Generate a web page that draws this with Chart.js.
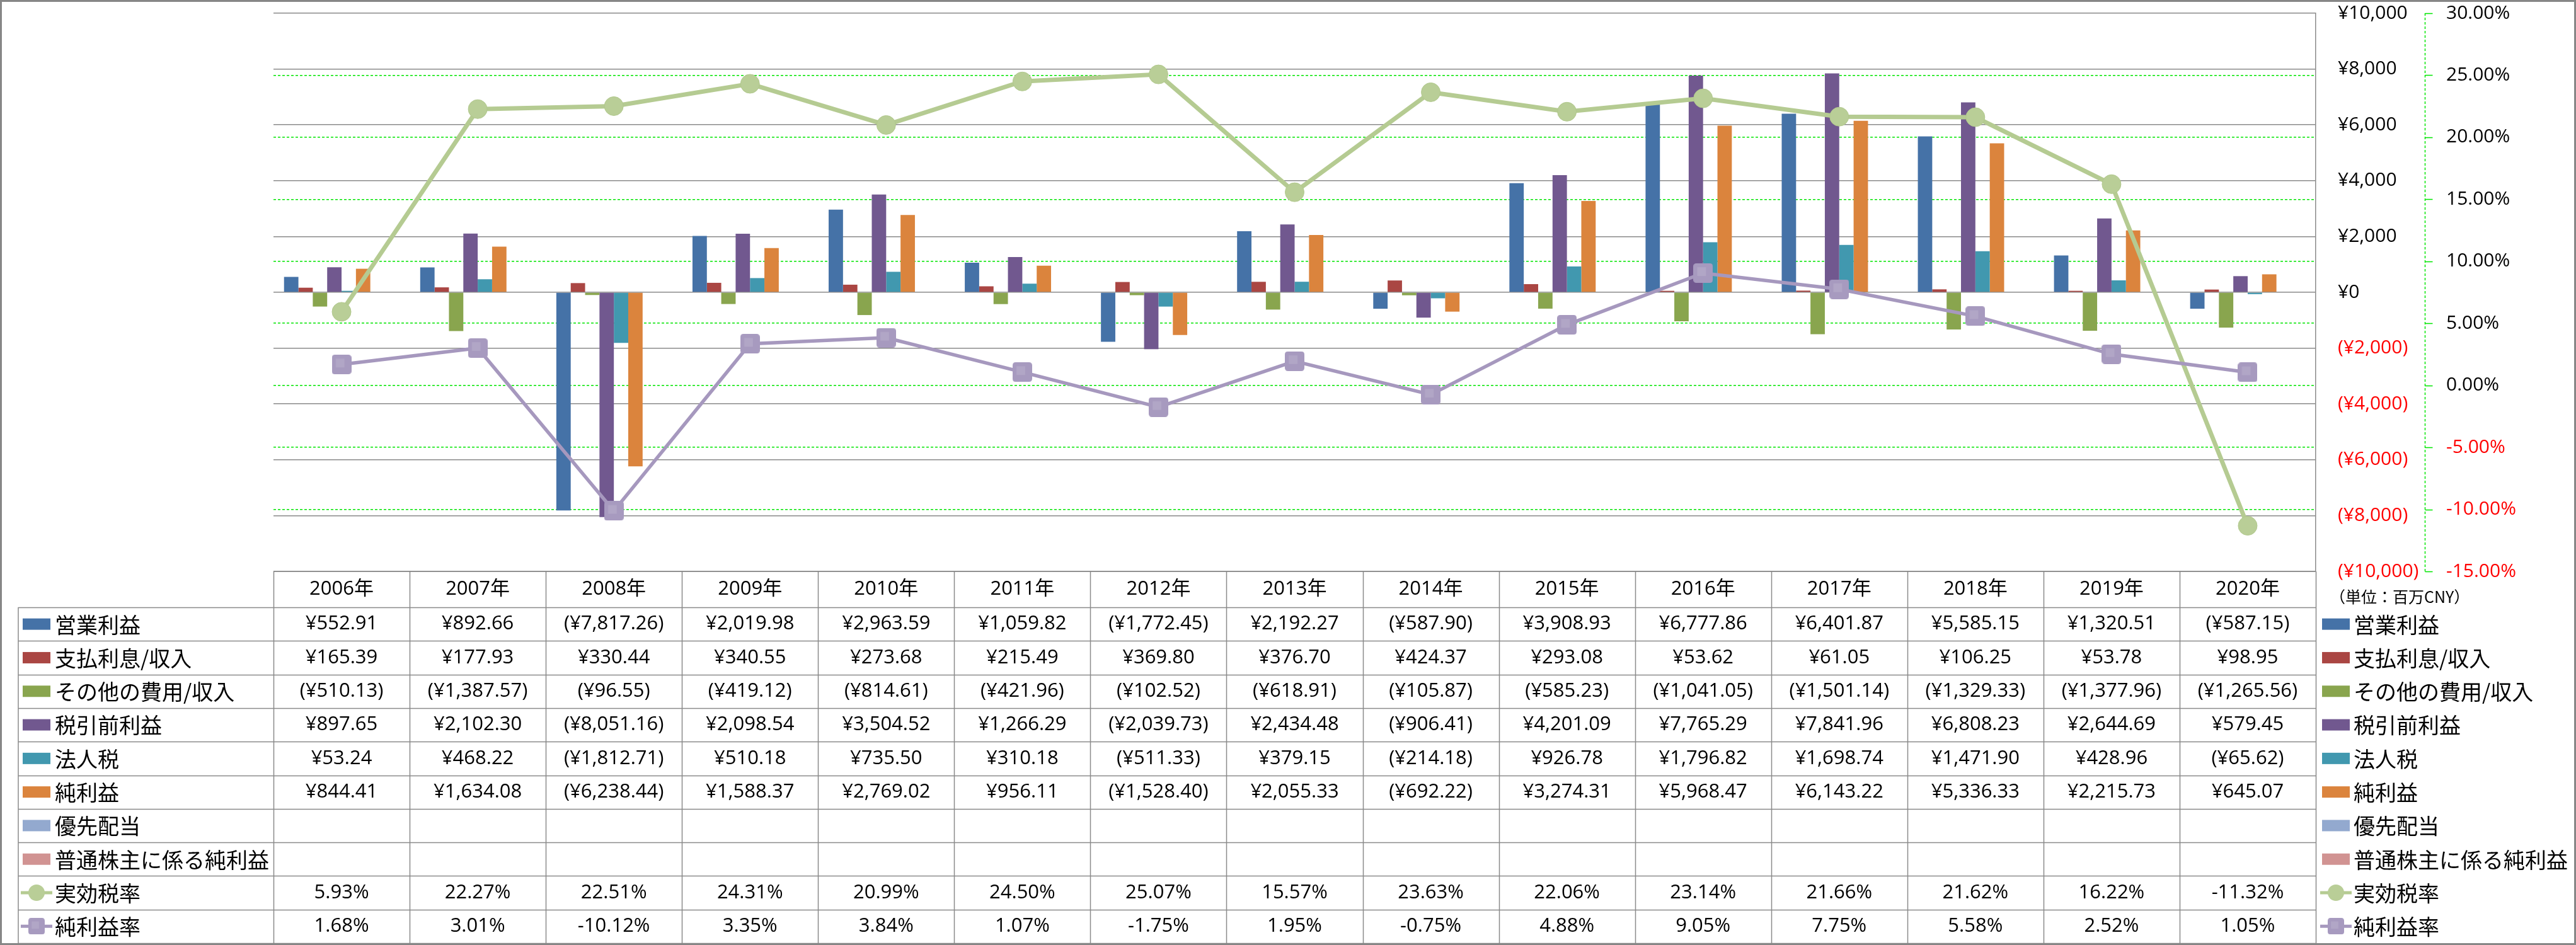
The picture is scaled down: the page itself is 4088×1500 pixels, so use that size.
<!DOCTYPE html>
<html>
<head>
<meta charset="utf-8">
<script src="https://cdn.jsdelivr.net/npm/chart.js@4.4.0/dist/chart.umd.min.js"></script>
<style>
  html, body { margin: 0; padding: 0; background: #fff; }
</style>
</head>
<body>
<canvas id="myChart" width="4088" height="1500"></canvas>
<script>
(function () {
    "use strict";

    // ---- data (百万CNY) ----
    const years = ['2006年', '2007年', '2008年', '2009年', '2010年', '2011年', '2012年', '2013年', '2014年', '2015年', '2016年', '2017年', '2018年', '2019年', '2020年'];
    const operatingIncome = [552.91, 892.66, -7817.26, 2019.98, 2963.59, 1059.82, -1772.45, 2192.27, -587.90, 3908.93, 6777.86, 6401.87, 5585.15, 1320.51, -587.15];
    const interest = [165.39, 177.93, 330.44, 340.55, 273.68, 215.49, 369.80, 376.70, 424.37, 293.08, 53.62, 61.05, 106.25, 53.78, 98.95];
    const otherIncome = [-510.13, -1387.57, -96.55, -419.12, -814.61, -421.96, -102.52, -618.91, -105.87, -585.23, -1041.05, -1501.14, -1329.33, -1377.96, -1265.56];
    const pretaxIncome = [897.65, 2102.30, -8051.16, 2098.54, 3504.52, 1266.29, -2039.73, 2434.48, -906.41, 4201.09, 7765.29, 7841.96, 6808.23, 2644.69, 579.45];
    const incomeTax = [53.24, 468.22, -1812.71, 510.18, 735.50, 310.18, -511.33, 379.15, -214.18, 926.78, 1796.82, 1698.74, 1471.90, 428.96, -65.62];
    const netIncome = [844.41, 1634.08, -6238.44, 1588.37, 2769.02, 956.11, -1528.40, 2055.33, -692.22, 3274.31, 5968.47, 6143.22, 5336.33, 2215.73, 645.07];
    const preferredDiv = [null, null, null, null, null, null, null, null, null, null, null, null, null, null, null];
    const commonNetIncome = [null, null, null, null, null, null, null, null, null, null, null, null, null, null, null];
    const effectiveTaxRate = [5.93, 22.27, 22.51, 24.31, 20.99, 24.50, 25.07, 15.57, 23.63, 22.06, 23.14, 21.66, 21.62, 16.22, -11.32];
    const netMargin = [1.68, 3.01, -10.12, 3.35, 3.84, 1.07, -1.75, 1.95, -0.75, 4.88, 9.05, 7.75, 5.58, 2.52, 1.05];

    const numFont = '"Open Sans", "Noto Sans CJK JP", sans-serif';
    const jpFont = '"Noto Sans CJK JP", sans-serif';
    const gridGreen = '#00E600';
    const gridGray = '#8A8A8A';

    function yen(v) {
        if (v === null || v === undefined) return '';
        const s = '¥' + Math.abs(v).toLocaleString('en-US', { minimumFractionDigits: 2, maximumFractionDigits: 2 });
        return v < 0 ? '(' + s + ')' : s;
    }
    function pct(v) {
        if (v === null || v === undefined) return '';
        return v.toFixed(2) + '%';
    }

    // rounded square marker for 純利益率
    function squareMarker(size) {
        const c = document.createElement('canvas');
        c.width = size; c.height = size;
        const g = c.getContext('2d');
        const r = size * 0.16;
        g.fillStyle = '#A79ABF';
        g.beginPath();
        g.moveTo(r, 0); g.lineTo(size - r, 0); g.quadraticCurveTo(size, 0, size, r);
        g.lineTo(size, size - r); g.quadraticCurveTo(size, size, size - r, size);
        g.lineTo(r, size); g.quadraticCurveTo(0, size, 0, size - r);
        g.lineTo(0, r); g.quadraticCurveTo(0, 0, r, 0);
        g.fill();
        g.fillStyle = 'rgba(255,255,255,0.12)';
        g.fillRect(size * 0.2, size * 0.2, size * 0.45, size * 0.45);
        return c;
    }
    const sqBig = squareMarker(31);
    const sqSmall = squareMarker(26);

    const barDs = (label, data, color) => ({
        type: 'bar', label: label, data: data, backgroundColor: color,
        borderWidth: 0, yAxisID: 'y', order: 2
    });

    const datasets = [
        barDs('営業利益', operatingIncome, '#4572A7'),
        barDs('支払利息/収入', interest, '#AA4643'),
        barDs('その他の費用/収入', otherIncome, '#89A54E'),
        barDs('税引前利益', pretaxIncome, '#71588F'),
        barDs('法人税', incomeTax, '#4198AF'),
        barDs('純利益', netIncome, '#DB843D'),
        barDs('優先配当', preferredDiv, '#93A9CF'),
        barDs('普通株主に係る純利益', commonNetIncome, '#D19392'),
        {
            type: 'line', label: '実効税率', data: effectiveTaxRate, yAxisID: 'y1', order: 1,
            borderColor: '#B5CB92', borderWidth: 7, backgroundColor: '#B9CE97',
            pointStyle: 'circle', pointRadius: 15, pointBorderColor: '#B1C88D', pointBorderWidth: 1,
            tension: 0, fill: false
        },
        {
            type: 'line', label: '純利益率', data: netMargin, yAxisID: 'y1', order: 0,
            borderColor: '#A698BE', borderWidth: 5.5, backgroundColor: '#A79ABF',
            pointStyle: sqBig, pointRadius: 15,
            tension: 0, fill: false
        }
    ];

    const tableTop = 907, headerH = 57, rowH = 53.3;

    const tablePlugin = {
        id: 'dataTable',
        afterDraw(chart) {
            const ctx = chart.ctx;
            const xs = chart.scales.x;
            const area = chart.chartArea;
            const colW = xs.getPixelForValue(1) - xs.getPixelForValue(0);
            const left = area.left, right = area.right;
            const labelLeft = 29;
            const nRows = chart.data.datasets.length;
            const bottom = tableTop + headerH + rowH * nRows;

            ctx.save();
            // percent axis line (dashed green) and its tick marks
            const y1 = chart.scales.y1;
            const ax = Math.round(y1.left) + 0.5;
            ctx.strokeStyle = gridGreen;
            ctx.lineWidth = 1.5;
            ctx.setLineDash([4, 3]);
            ctx.beginPath();
            ctx.moveTo(ax, area.top);
            ctx.lineTo(ax, area.bottom);
            ctx.stroke();
            ctx.setLineDash([]);
            ctx.beginPath();
            y1.ticks.forEach((t) => {
                const ty = Math.round(y1.getPixelForValue(t.value)) + 0.5;
                ctx.moveTo(ax, ty); ctx.lineTo(ax + 12, ty);
            });
            ctx.stroke();

            // table grid
            ctx.strokeStyle = gridGray;
            ctx.lineWidth = 1.5;
            ctx.beginPath();
            ctx.moveTo(left, tableTop); ctx.lineTo(right, tableTop);
            for (let r = 0; r <= nRows; r++) {
                const y = Math.round(tableTop + headerH + rowH * r) + 0.5;
                ctx.moveTo(labelLeft, y); ctx.lineTo(right, y);
            }
            ctx.moveTo(labelLeft, tableTop + headerH); ctx.lineTo(labelLeft, bottom);
            for (let i = 0; i <= years.length; i++) {
                const x = Math.round(xs.getPixelForValue(0) - colW / 2 + colW * i) + 0.5;
                ctx.moveTo(x, tableTop); ctx.lineTo(x, bottom);
            }
            ctx.stroke();

            // header
            ctx.fillStyle = '#000';
            ctx.textAlign = 'center';
            ctx.textBaseline = 'middle';
            ctx.font = '31px ' + numFont;
            chart.data.labels.forEach((lab, i) => {
                ctx.fillText(lab, xs.getPixelForValue(i), tableTop + headerH / 2);
            });

            // rows
            chart.data.datasets.forEach((ds, r) => {
                const cy = tableTop + headerH + rowH * (r + 0.5);
                const fmt = ds.yAxisID === 'y1' ? pct : yen;
                ctx.fillStyle = '#000';
                ctx.font = '31px ' + numFont;
                ctx.textAlign = 'center';
                ds.data.forEach((v, i) => {
                    ctx.fillText(fmt(v), xs.getPixelForValue(i), cy);
                });
                drawKey(ctx, ds, 36, cy);
                drawKey(ctx, ds, 3685, cy);
                ctx.fillStyle = '#000';
                ctx.textAlign = 'left';
                ctx.font = '34px ' + jpFont;
                ctx.fillText(ds.label, 87, cy + 1);
                ctx.fillText(ds.label, 3735, cy + 1);
            });

            // unit note
            ctx.font = '25px ' + jpFont;
            ctx.textAlign = 'left';
            ctx.fillText('（単位：百万CNY）', 3697, 947);

            // outer frame
            ctx.strokeStyle = '#868686';
            ctx.lineWidth = 3;
            ctx.strokeRect(1.5, 1.5, chart.width - 3, chart.height - 3);
            ctx.restore();
        }
    };

    function drawKey(ctx, ds, x, cy) {
        if (ds.type === 'bar') {
            ctx.fillStyle = ds.backgroundColor;
            ctx.fillRect(x, cy - 9, 44, 18);
        } else {
            ctx.strokeStyle = ds.borderColor;
            ctx.lineWidth = 5;
            ctx.beginPath();
            ctx.moveTo(x - 3, cy); ctx.lineTo(x + 47, cy);
            ctx.stroke();
            if (ds.pointStyle === 'circle') {
                ctx.fillStyle = ds.backgroundColor;
                ctx.beginPath();
                ctx.arc(x + 22, cy, 13, 0, Math.PI * 2);
                ctx.fill();
            } else {
                ctx.drawImage(sqSmall, x + 22 - 13, cy - 13);
            }
        }
    }

    const ctx = document.getElementById('myChart').getContext('2d');
    new Chart(ctx, {
        data: { labels: years, datasets: datasets },
        options: {
            responsive: false,
            animation: false,
            devicePixelRatio: 1,
            layout: { padding: { left: 434, top: 21, right: 0, bottom: 593 } },
            datasets: {
                bar: { categoryPercentage: 0.845, barPercentage: 1.0 }
            },
            plugins: {
                legend: { display: false },
                tooltip: { enabled: false }
            },
            scales: {
                x: {
                    display: false,
                    offset: true
                },
                y: {
                    position: 'right',
                    min: -10000, max: 10000,
                    afterFit: (scale) => { scale.width = 173; },
                    ticks: {
                        stepSize: 2000,
                        padding: 2,
                        font: { size: 30, family: numFont },
                        color: (c) => (c.tick && c.tick.value < 0 ? '#FF0000' : '#000000'),
                        callback: (v) => {
                            const s = '¥' + Math.abs(v).toLocaleString('en-US');
                            return v < 0 ? '(' + s + ')' : s;
                        }
                    },
                    grid: {
                        color: gridGray, lineWidth: 1.5,
                        drawTicks: true, tickLength: 33, tickColor: 'rgba(0,0,0,0)'
                    },
                    border: { display: true, color: gridGray, width: 1.5 }
                },
                y1: {
                    position: 'right',
                    min: -15, max: 30,
                    afterFit: (scale) => { scale.width = 240; },
                    ticks: {
                        stepSize: 5,
                        padding: 2,
                        font: { size: 30, family: numFont },
                        color: (c) => (c.tick && c.tick.value < 0 ? '#FF0000' : '#000000'),
                        callback: (v) => v.toFixed(2) + '%'
                    },
                    grid: {
                        color: (c) => (c.tick && (c.tick.value === 30 || c.tick.value === -15) ? 'rgba(0,0,0,0)' : gridGreen),
                        lineWidth: 1.5,
                        drawTicks: true, tickLength: 32, tickColor: 'rgba(0,0,0,0)'
                    },
                    border: { display: false, dash: [4, 3] }
                }
            }
        },
        plugins: [tablePlugin]
    });
})();
</script>
</body>
</html>
